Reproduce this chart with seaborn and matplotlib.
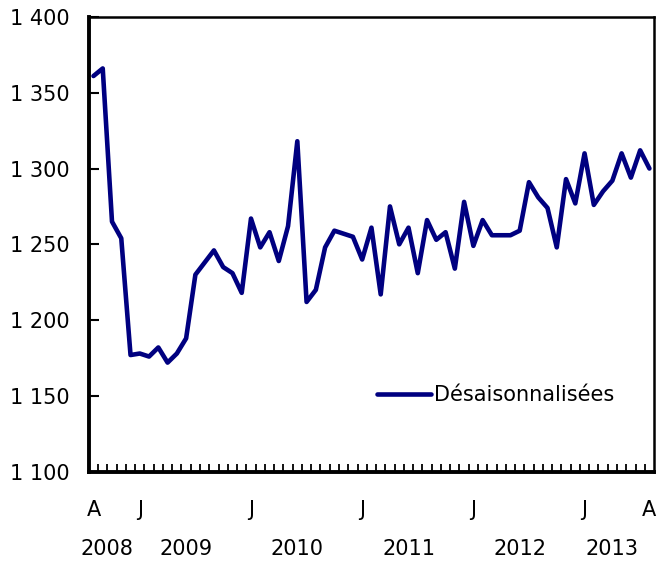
import numpy as np
import pandas as pd
import seaborn as sns
import matplotlib
import matplotlib.pyplot as plt
from matplotlib.ticker import FixedLocator, FuncFormatter

sns.set_style('white')
matplotlib.rcParams['font.family'] = ['DejaVu Sans']
matplotlib.rcParams['font.size'] = 15
matplotlib.rcParams['text.color'] = 'black'
matplotlib.rcParams['xtick.color'] = 'black'
matplotlib.rcParams['ytick.color'] = 'black'

# monthly values, Aug 2008 to Aug 2013
values = [1361, 1366, 1265, 1254, 1177, 1178, 1176, 1182, 1172, 1178,
          1188, 1230, 1238, 1246, 1235, 1231, 1218, 1267, 1248, 1258,
          1239, 1262, 1318, 1212, 1220, 1248, 1259, 1257, 1255, 1240,
          1261, 1217, 1275, 1250, 1261, 1231, 1266, 1253, 1258, 1234,
          1278, 1249, 1266, 1256, 1256, 1256, 1259, 1291, 1281, 1274,
          1248, 1293, 1277, 1310, 1276, 1285, 1292, 1310, 1294, 1312,
          1300]
month_idx = [0, 5, 17, 29, 41, 53, 60]
month_labels = ['A', 'J', 'J', 'J', 'J', 'J', 'A']
years = ['2008', '2009', '2010', '2011', '2012', '2013']
year_first = [0, 5, 17, 29, 41, 53]
series_name = 'Désaisonnalisées'

df = pd.DataFrame({'t': np.arange(len(values)), 'v': values})

fig = plt.figure(figsize=(6.58, 5.63), dpi=100)
ax = fig.add_axes([0.135, 0.162, 0.859, 0.808])

sns.lineplot(data=df, x='t', y='v', ax=ax, color='#000080', linewidth=3.3,
             label=series_name)

n = len(values)
ax.set_xlim(-0.5, n - 0.5)
ax.set_ylim(1100, 1400)
ax.set_xlabel('')
ax.set_ylabel('')

ax.set_yticks(np.arange(1100, 1401, 50))
ax.yaxis.set_major_formatter(FuncFormatter(lambda v, p: f'{int(v):,}'.replace(',', ' ')))
ax.tick_params(axis='y', left=True, direction='in', length=7, width=1.5,
               pad=14, labelsize=15)

ax.set_xticks(month_idx)
ax.set_xticklabels(month_labels)
ax.tick_params(axis='x', which='major', bottom=True, length=0, pad=20, labelsize=15)
ax.xaxis.set_minor_locator(FixedLocator(np.arange(0.5, n - 0.5, 1)))
ax.tick_params(axis='x', which='minor', bottom=True, direction='in', length=6,
               width=1.3, color='black')

# year labels under the month letters
trans = matplotlib.transforms.blended_transform_factory(ax.transData, ax.transAxes)
ends = year_first[1:] + [n]
for yr, a, b in zip(years, year_first, ends):
    ax.text((a + b - 1) / 2 - 0.5, -0.169, yr, transform=trans,
            ha='center', va='center', fontsize=15)

for side in ['left', 'bottom']:
    ax.spines[side].set_linewidth(2.8)
for side in ['top', 'right']:
    ax.spines[side].set_linewidth(1.8)
for s in ax.spines.values():
    s.set_color('black')

ax.legend(loc='center left', bbox_to_anchor=(0.51, 0.169), frameon=False,
          handlelength=2.6, handletextpad=0.15, borderpad=0, borderaxespad=0,
          fontsize=15)

fig.savefig('out.png', dpi=100)
